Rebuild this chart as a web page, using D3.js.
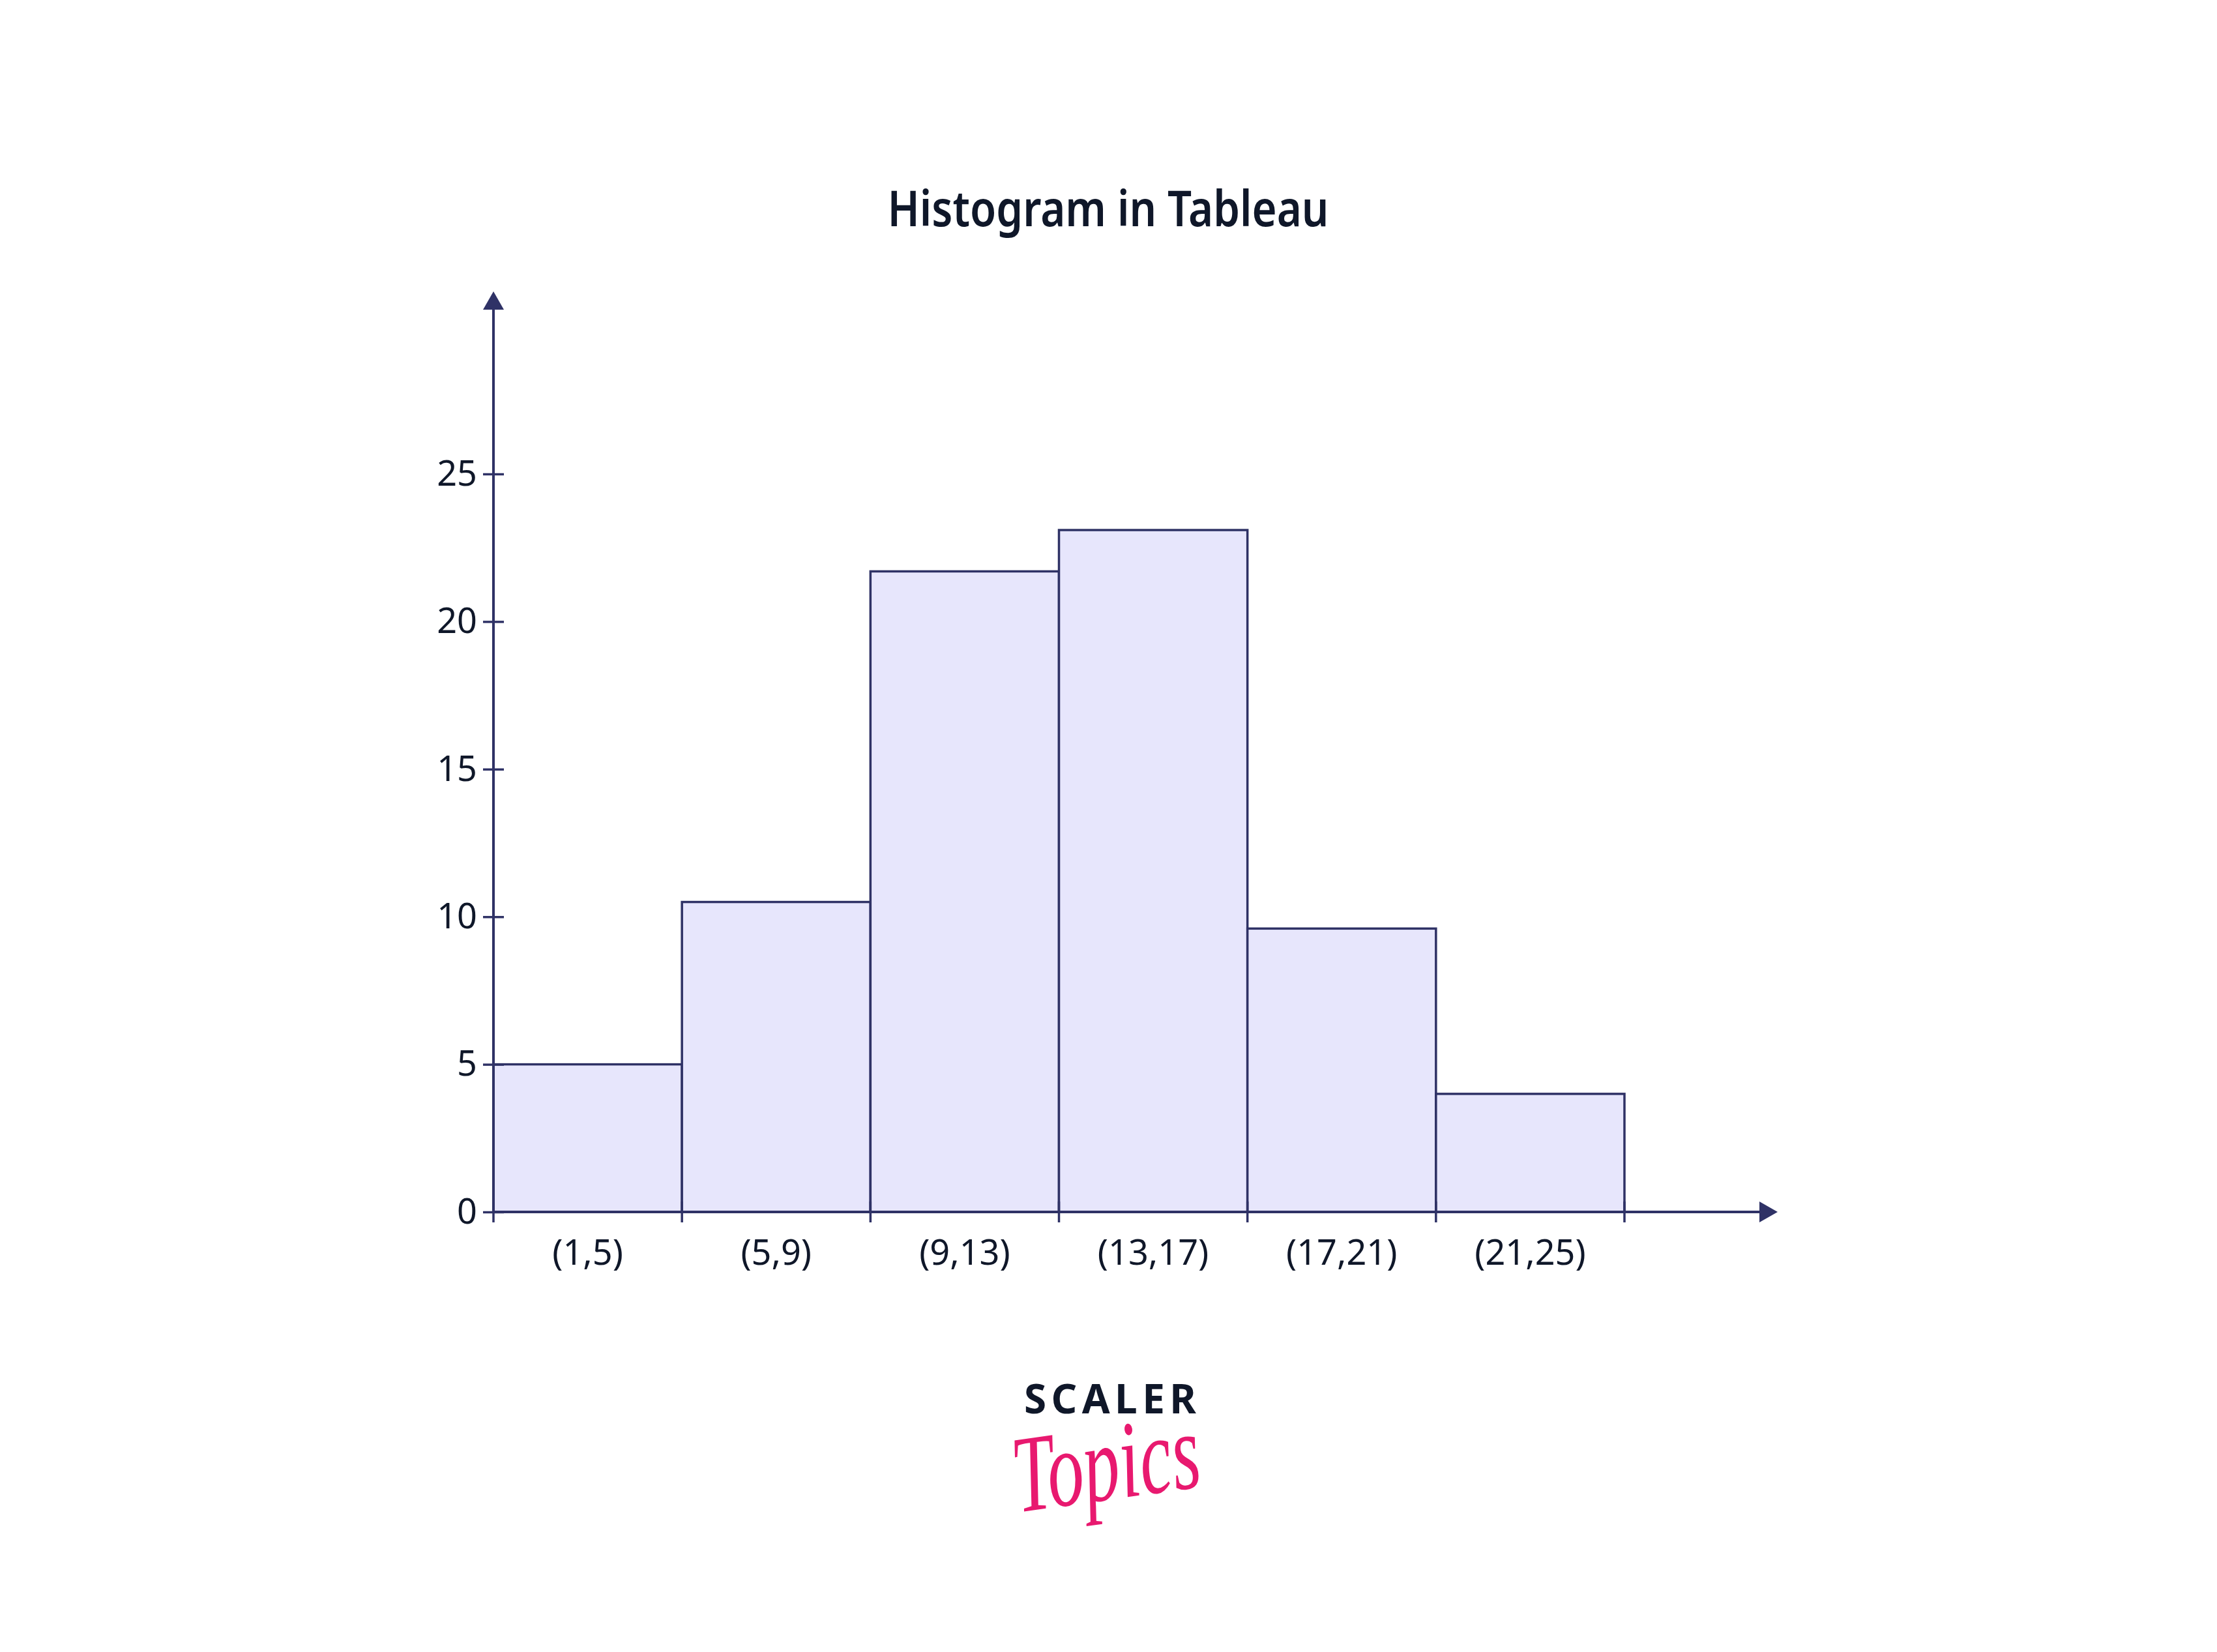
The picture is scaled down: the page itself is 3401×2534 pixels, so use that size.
<!DOCTYPE html>
<html>
<head>
<meta charset="utf-8">
<script src="https://cdn.jsdelivr.net/npm/d3@7"></script>
<style>
  html, body { margin: 0; padding: 0; background: #ffffff; }
  svg { display: block; }
</style>
</head>
<body>
<svg id="chart" width="3401" height="2534"></svg>
<script>
// ---- Data ----
const categories = ["(1,5)", "(5,9)", "(9,13)", "(13,17)", "(17,21)", "(21,25)"];
const counts = [5, 10.5, 21.7, 23.1, 9.6, 4];
const yTicks = [0, 5, 10, 15, 20, 25];
const titleText = "Histogram in Tableau";

// ---- Styles ----
const AXIS = "#2f3266";
const FILL = "#e7e6fc";
const TEXT = "#0f1729";
const PINK = "#e8196f";
const FONT = "'Noto Sans', 'Open Sans', sans-serif";

const svg = d3.select("#chart");
svg.append("rect").attr("width", 3401).attr("height", 2534).attr("fill", "#fff");

// layout
const x0 = 757, xEnd = 2492, xArrow = 2727;
const y0 = 1859, yTop = 727, yArrow = 447;

const x = d3.scaleBand().domain(categories).range([x0, xEnd]).padding(0);
const y = d3.scaleLinear().domain([0, 25]).range([y0, yTop]);

function fitWidth(sel, target) {
  const w = sel.node().getComputedTextLength();
  if (Math.abs(w - target) / target > 0.02) {
    sel.attr("textLength", target).attr("lengthAdjust", "spacingAndGlyphs");
  }
}

// Title
const title = svg.append("text")
  .attr("x", 1700).attr("y", 347)
  .attr("text-anchor", "middle")
  .attr("font-family", FONT).attr("font-weight", 600)
  .attr("font-size", 75).attr("fill", TEXT)
  .text(titleText);
fitWidth(title, 677);

// Bars
svg.append("g").selectAll("rect")
  .data(categories.map((c, i) => ({ c, v: counts[i] })))
  .join("rect")
  .attr("x", d => x(d.c))
  .attr("y", d => y(d.v))
  .attr("width", x.bandwidth())
  .attr("height", d => y(0) - y(d.v))
  .attr("fill", FILL)
  .attr("stroke", AXIS)
  .attr("stroke-width", 3.5);

// Y axis
const yAxis = svg.append("g")
  .attr("transform", `translate(${x0},0)`)
  .call(d3.axisLeft(y).tickValues(yTicks).tickSize(16).tickPadding(9).tickFormat(d3.format("d")));
yAxis.select(".domain").remove();
yAxis.selectAll(".tick line").attr("x1", 16).attr("stroke", AXIS).attr("stroke-width", 3.5);
yAxis.selectAll(".tick text")
  .attr("font-family", FONT).attr("font-size", 54).attr("fill", TEXT);

// Y axis line + arrow
svg.append("line")
  .attr("x1", x0).attr("x2", x0).attr("y1", y0).attr("y2", yArrow + 28)
  .attr("stroke", AXIS).attr("stroke-width", 4);
svg.append("path")
  .attr("d", `M${x0},${yArrow} L${x0 - 16},${yArrow + 28} L${x0 + 16},${yArrow + 28} Z`)
  .attr("fill", AXIS);

// X axis labels (band centers)
const xAxis = svg.append("g")
  .attr("transform", `translate(0,${y0})`)
  .call(d3.axisBottom(x).tickSize(0).tickPadding(0));
xAxis.select(".domain").remove();
xAxis.selectAll(".tick text")
  .attr("y", 81).attr("dy", 0)
  .attr("font-family", FONT).attr("font-size", 54).attr("fill", TEXT);

// X boundary ticks
const bounds = categories.map(c => x(c)).concat([x(categories[categories.length - 1]) + x.bandwidth()]);
svg.append("g").selectAll("line")
  .data(bounds)
  .join("line")
  .attr("x1", d => d).attr("x2", d => d)
  .attr("y1", y0 - 16).attr("y2", y0 + 16)
  .attr("stroke", AXIS).attr("stroke-width", 3.5);

// X axis line + arrow
svg.append("line")
  .attr("x1", x0).attr("x2", xArrow - 28).attr("y1", y0).attr("y2", y0)
  .attr("stroke", AXIS).attr("stroke-width", 4);
svg.append("path")
  .attr("d", `M${xArrow},${y0} L${xArrow - 28},${y0 - 16} L${xArrow - 28},${y0 + 16} Z`)
  .attr("fill", AXIS);

// Logo
const scaler = svg.append("text")
  .attr("x", 1703).attr("y", 2168)
  .attr("text-anchor", "middle")
  .attr("font-family", FONT).attr("font-weight", 700)
  .attr("font-size", 62).attr("fill", TEXT)
  .text("SCALER");
scaler.attr("textLength", 264).attr("lengthAdjust", "spacing");

const topics = svg.append("text")
  .attr("x", 1700).attr("y", 2300)
  .attr("text-anchor", "middle")
  .attr("font-family", "'Liberation Serif', 'DejaVu Serif', serif")
  .attr("font-style", "italic")
  .attr("font-size", 168).attr("fill", PINK)
  .attr("transform", "rotate(-8,1700,2270)")
  .text("Topics");
fitWidth(topics, 288);
</script>
</body>
</html>
